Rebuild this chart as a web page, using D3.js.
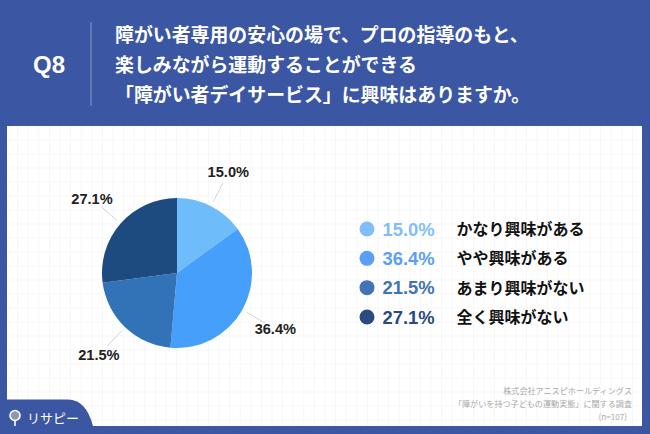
<!DOCTYPE html>
<html>
<head>
<meta charset="utf-8">
<script src="https://cdn.jsdelivr.net/npm/d3@7"></script>
<style>
html, body { margin: 0; padding: 0; background: #3b57a3; }
svg { display: block; }
text { font-family: "Liberation Sans", "Noto Sans CJK JP", sans-serif; }
.jp { font-family: "Noto Sans CJK JP", sans-serif; }
</style>
</head>
<body>
<div id="chart"></div>
<script>
const svgWidth = 650;
const svgHeight = 434;

// Chart data
const answers = ["かなり興味がある", "やや興味がある", "あまり興味がない", "全く興味がない"];
const shares = [15.0, 36.4, 21.5, 27.1];
const sliceColors = ["#6fbcfb", "#469ffa", "#3273b8", "#1d4b80"];
const legendColors = ["#82bdfb", "#5a9ff5", "#4273b3", "#2a4b80"];
const titleLines = ["障がい者専用の安心の場で、プロの指導のもと、", "楽しみながら運動することができる", "「障がい者デイサービス」に興味はありますか。"];
const noteLines = ["株式会社アニスピホールディングス", "「障がいを持つ子どもの運動実態」に関する調査", "(n=107)"];

const svg = d3.select("#chart")
	.append("svg")
	.attr("width", svgWidth)
	.attr("height", svgHeight);

svg.append("rect")
	.attr("width", svgWidth)
	.attr("height", svgHeight)
	.attr("fill", "#3b57a3");

// Header
svg.append("text")
	.attr("x", 49)
	.attr("y", 73)
	.attr("text-anchor", "middle")
	.attr("font-size", 24)
	.attr("font-weight", "bold")
	.attr("fill", "#fff")
	.text("Q8");

svg.append("line")
	.attr("x1", 91).attr("x2", 91)
	.attr("y1", 22).attr("y2", 106)
	.attr("stroke", "#8c9cc9")
	.attr("stroke-width", 1);

svg.selectAll("text.title")
	.data(titleLines)
	.enter()
	.append("text")
	.classed("title jp", true)
	.attr("x", 115)
	.attr("y", (d, i) => 42 + i * 30)
	.attr("font-size", 18.9)
	.attr("font-weight", 700)
	.attr("fill", "#fff")
	.text(d => d);

// White panel with faint grid
const panel = { x: 7, y: 126, w: 635, h: 300 };
svg.append("rect")
	.attr("x", panel.x).attr("y", panel.y)
	.attr("width", panel.w).attr("height", panel.h)
	.attr("fill", "#fff");

svg.append("g")
	.selectAll("line")
	.data(d3.range(panel.x + 10.6, panel.x + panel.w, 10.6))
	.enter()
	.append("line")
	.attr("x1", d => d).attr("x2", d => d)
	.attr("y1", panel.y).attr("y2", panel.y + panel.h)
	.attr("stroke", "#f7f7f8");
svg.append("g")
	.selectAll("line")
	.data(d3.range(panel.y + 14, panel.y + panel.h, 14))
	.enter()
	.append("line")
	.attr("x1", panel.x).attr("x2", panel.x + panel.w)
	.attr("y1", d => d).attr("y2", d => d)
	.attr("stroke", "#f7f7f8");

// Pie
const radius = 75;
const pieGroup = svg.append("g")
	.attr("transform", "translate(177, 273)");

const pie = d3.pie().sort(null)(shares);
const arc = d3.arc().innerRadius(0).outerRadius(radius);
const arcAt = r => d3.arc().innerRadius(r).outerRadius(r);

pieGroup.selectAll("path")
	.data(pie)
	.enter()
	.append("path")
	.attr("d", arc)
	.attr("fill", (d, i) => sliceColors[i]);

pieGroup.selectAll("line")
	.data(pie)
	.enter()
	.append("line")
	.attr("x1", d => arcAt(80).centroid(d)[0])
	.attr("y1", d => arcAt(80).centroid(d)[1])
	.attr("x2", d => arcAt(101).centroid(d)[0])
	.attr("y2", d => arcAt(101).centroid(d)[1])
	.attr("stroke", "#d5d5d5")
	.attr("stroke-width", 1);

pieGroup.selectAll("text")
	.data(pie)
	.enter()
	.append("text")
	.attr("x", d => arcAt(113).centroid(d)[0])
	.attr("y", d => arcAt(113).centroid(d)[1] + 5)
	.attr("text-anchor", "middle")
	.attr("font-size", 14.6)
	.attr("font-weight", "bold")
	.attr("fill", "#222")
	.text(d => d.data.toFixed(1) + "%");

// Legend
const legendY = d3.scalePoint().domain(answers).range([229, 317]);

const legend = svg.selectAll("g.legend")
	.data(answers)
	.enter()
	.append("g")
	.classed("legend", true)
	.attr("transform", d => `translate(0, ${legendY(d)})`);

legend.append("circle")
	.attr("cx", 367)
	.attr("r", 7.5)
	.attr("fill", (d, i) => legendColors[i]);

legend.append("text")
	.attr("x", 382.5)
	.attr("y", 6.5)
	.attr("font-size", 18.4)
	.attr("font-weight", "bold")
	.attr("fill", (d, i) => legendColors[i])
	.text((d, i) => shares[i].toFixed(1) + "%");

legend.append("text")
	.classed("jp", true)
	.attr("x", 456.5)
	.attr("y", 6)
	.attr("font-size", 16)
	.attr("font-weight", 700)
	.attr("fill", "#111")
	.text(d => d);

// Source note
svg.selectAll("text.note")
	.data(noteLines)
	.enter()
	.append("text")
	.classed("note jp", true)
	.attr("x", (d, i) => i === 2 ? 627 : 632)
	.attr("y", (d, i) => 394 + i * 13)
	.attr("text-anchor", "end")
	.attr("font-size", 8.1)
	.attr("fill", "#aaa")
	.text(d => d);

// Logo tab
svg.append("path")
	.attr("d", "M0,399.5 H68 Q86,399.5 93,426 V434 H0 Z")
	.attr("fill", "#3b57a3");

svg.append("circle")
	.attr("cx", 15).attr("cy", 415.5).attr("r", 5)
	.attr("fill", "#8d97b5")
	.attr("stroke", "#fff")
	.attr("stroke-width", 1.6);

svg.append("line")
	.attr("x1", 15).attr("x2", 15)
	.attr("y1", 420.5).attr("y2", 426)
	.attr("stroke", "#fff")
	.attr("stroke-width", 1.6);

svg.append("text")
	.classed("jp", true)
	.attr("x", 27)
	.attr("y", 423)
	.attr("font-size", 13)
	.attr("fill", "#fff")
	.text("リサピー");
</script>
</body>
</html>
